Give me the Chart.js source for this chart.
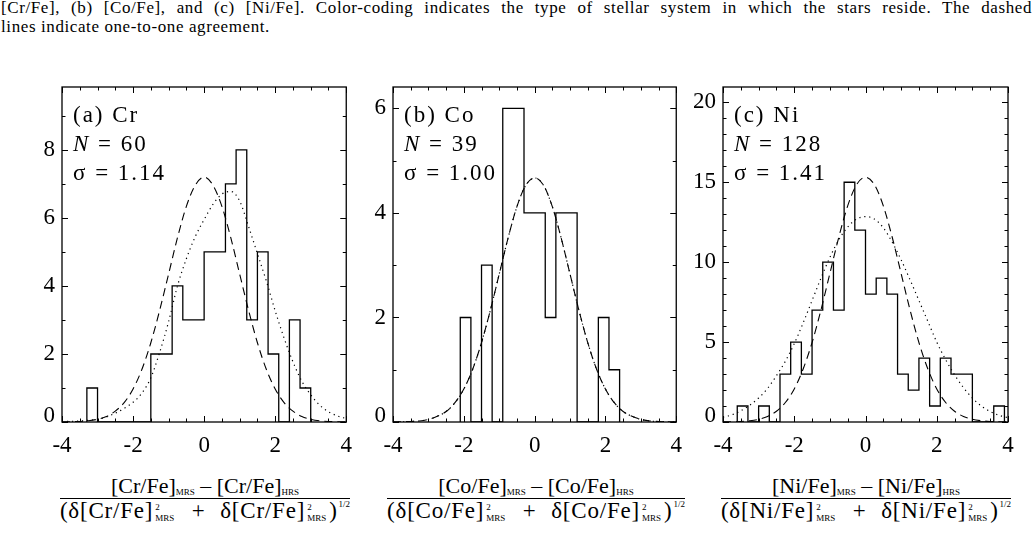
<!DOCTYPE html>
<html>
<head>
<meta charset="utf-8">
<script src="https://cdn.jsdelivr.net/npm/chart.js@4.4.0/dist/chart.umd.min.js"></script>
<style>
  html, body { margin: 0; padding: 0; background: #fff; }
  body { width: 1035px; height: 534px; position: relative; overflow: hidden; font-family: "Liberation Serif", serif; color: #000; }
  .cap { position: absolute; left: 1px; width: 1031px; font-size: 17px; line-height: 19px; letter-spacing: 0.6px; }
  #cap1 { top: -2px; text-align: justify; text-align-last: justify; }
  #cap2 { top: 17px; white-space: nowrap; }
  canvas { position: absolute; top: 60px; }
  .xt { position: absolute; top: 475px; width: 340px; text-align: center; font-size: 22px; line-height: 22px; }
  .num { white-space: nowrap; height: 23px; }
  .num sub { font-size: 9px; vertical-align: -2px; line-height: 0; }
  .den { display: inline-block; white-space: nowrap; border-top: 1.4px solid #000; padding-top: 1px; font-size: 23px; letter-spacing: 0.8px; word-spacing: 8px; }
  .ss { display: inline-flex; flex-direction: column; font-size: 9px; line-height: 11px; vertical-align: 8px; letter-spacing: 0; margin: 0 3px 0 2px; text-align: left; }
  .den sup { font-size: 9px; vertical-align: 11px; line-height: 0; letter-spacing: 0; margin-left: 1px; }
</style>
</head>
<body>
<div class="cap" id="cap1">[Cr/Fe], (b) [Co/Fe], and (c) [Ni/Fe]. Color-coding indicates the type of stellar system in which the stars reside. The dashed</div>
<div class="cap" id="cap2">lines indicate one-to-one agreement.</div>

<canvas id="crChart" width="362" height="410" style="left:0px"></canvas>
<canvas id="coChart" width="352" height="410" style="left:340px"></canvas>
<canvas id="niChart" width="355" height="410" style="left:680px"></canvas>

<div class="xt" style="left:35px">
  <div class="num">[Cr/Fe]<sub>MRS</sub> – [Cr/Fe]<sub>HRS</sub></div>
  <div class="den">(δ[Cr/Fe]<span class="ss"><span>2</span><span>MRS</span></span> + δ[Cr/Fe]<span class="ss"><span>2</span><span>MRS</span></span>)<sup>1/2</sup></div>
</div>
<div class="xt" style="left:366px">
  <div class="num">[Co/Fe]<sub>MRS</sub> – [Co/Fe]<sub>HRS</sub></div>
  <div class="den">(δ[Co/Fe]<span class="ss"><span>2</span><span>MRS</span></span> + δ[Co/Fe]<span class="ss"><span>2</span><span>MRS</span></span>)<sup>1/2</sup></div>
</div>
<div class="xt" style="left:696px">
  <div class="num">[Ni/Fe]<sub>MRS</sub> – [Ni/Fe]<sub>HRS</sub></div>
  <div class="den">(δ[Ni/Fe]<span class="ss"><span>2</span><span>MRS</span></span> + δ[Ni/Fe]<span class="ss"><span>2</span><span>MRS</span></span>)<sup>1/2</sup></div>
</div>

<script>
// tick labels
const xTickLabels = [-4, -2, 0, 2, 4];
const crYTicks = [0, 2, 4, 6, 8];
const coYTicks = [0, 2, 4, 6];
const niYTicks = [0, 5, 10, 15, 20];

// panel annotations
const panelNames = ['(a) Cr', '(b) Co', '(c) Ni'];
const panelN = ['60', '39', '128'];
const panelSigma = ['1.14', '1.00', '1.41'];

// histograms: bin edges and counts
const crEdges = [-3.3, -3.0, -2.7, -2.4, -2.1, -1.8, -1.5, -1.2, -0.9, -0.6, -0.3, 0, 0.3, 0.6, 0.9, 1.2, 1.5, 1.8, 2.1, 2.4, 2.7, 3.0];
const crCounts = [1, 0, 0, 0, 0, 0, 2, 2, 4, 3, 3, 5, 5, 7, 8, 3, 5, 2, 0, 3, 1];

const coEdges = [-2.1, -1.8, -1.5, -1.2, -0.9, -0.6, -0.3, 0, 0.3, 0.6, 0.9, 1.2, 1.5, 1.8, 2.1, 2.4];
const coCounts = [2, 0, 3, 0, 6, 6, 4, 4, 2, 4, 4, 0, 0, 2, 1];

const niEdges = [-3.6, -3.3, -3.0, -2.7, -2.4, -2.1, -1.8, -1.5, -1.2, -0.9, -0.6, -0.3, 0, 0.3, 0.6, 0.9, 1.2, 1.5, 1.8, 2.1, 2.4, 2.7, 3.0, 3.3, 3.6, 3.9];
const niCounts = [1, 0, 1, 0, 3, 5, 3, 7, 10, 7, 15, 12, 8, 9, 8, 3, 2, 4, 1, 4, 3, 3, 0, 0, 1];

// curves, read every 0.25 from -4 to 4
const curveX = [-4, -3.75, -3.5, -3.25, -3, -2.75, -2.5, -2.25, -2, -1.75, -1.5, -1.25, -1, -0.75, -0.5, -0.25, 0,
                0.25, 0.5, 0.75, 1, 1.25, 1.5, 1.75, 2, 2.25, 2.5, 2.75, 3, 3.25, 3.5, 3.75, 4];

const crDashed = [0.002, 0.006, 0.016, 0.037, 0.08, 0.16, 0.32, 0.57, 0.97, 1.55, 2.33, 3.29, 4.35, 5.42, 6.34, 6.96, 7.2,
                  6.96, 6.34, 5.42, 4.35, 3.29, 2.33, 1.55, 0.97, 0.57, 0.32, 0.16, 0.08, 0.037, 0.016, 0.006, 0.002];
const crDotted = [0.01, 0.02, 0.03, 0.05, 0.08, 0.15, 0.26, 0.4, 0.58, 0.85, 1.3, 2.05, 2.95, 4.0, 4.8, 5.45, 5.95,
                  6.4, 6.7, 6.78, 6.5, 5.75, 4.95, 4.15, 3.27, 2.47, 1.77, 1.2, 0.8, 0.5, 0.3, 0.18, 0.1];

const coDashed = [0.002, 0.004, 0.01, 0.02, 0.05, 0.11, 0.2, 0.37, 0.63, 1.01, 1.52, 2.14, 2.83, 3.52, 4.12, 4.53, 4.67,
                  4.53, 4.12, 3.52, 2.83, 2.14, 1.52, 1.01, 0.63, 0.37, 0.2, 0.11, 0.05, 0.02, 0.01, 0.004, 0.002];
const coDotted = [0.002, 0.004, 0.01, 0.02, 0.05, 0.11, 0.2, 0.37, 0.63, 1.01, 1.52, 2.14, 2.83, 3.52, 4.12, 4.53, 4.67,
                  4.53, 4.12, 3.52, 2.83, 2.14, 1.52, 1.01, 0.63, 0.37, 0.2, 0.11, 0.05, 0.02, 0.01, 0.004, 0.002];

const niDashed = [0.005, 0.013, 0.034, 0.08, 0.17, 0.35, 0.67, 1.22, 2.07, 3.32, 4.97, 7.01, 9.29, 11.56, 13.52, 14.85, 15.32,
                  14.85, 13.52, 11.56, 9.29, 7.01, 4.97, 3.32, 2.07, 1.22, 0.67, 0.35, 0.17, 0.08, 0.034, 0.013, 0.005];
const niDotted = [0.3, 0.45, 0.7, 1.05, 1.5, 2.1, 2.9, 3.8, 4.9, 6.2, 7.6, 9.0, 10.3, 11.4, 12.2, 12.7, 12.85,
                  12.7, 12.15, 11.25, 10.15, 8.9, 7.6, 6.3, 5.0, 3.9, 2.95, 2.15, 1.5, 1.0, 0.66, 0.42, 0.27];

const FONT = '"Liberation Serif", "Times New Roman", serif';
Chart.defaults.font.family = FONT;

function histPoints(edges, counts) {
    const pts = [{ x: edges[0], y: 0 }];
    counts.forEach((c, i) => {
        pts.push({ x: edges[i], y: c }, { x: edges[i + 1], y: c });
    });
    pts.push({ x: edges[edges.length - 1], y: 0 });
    return pts;
}

function curvePoints(vals) {
    return curveX.map((x, i) => ({ x: x, y: vals[i] }));
}

// text with a little extra room between glyphs, like the original plot
function spacedText(ctx, str, x, y, gap) {
    for (const ch of str) {
        ctx.fillText(ch, x, y);
        x += ctx.measureText(ch).width + gap;
    }
    return x;
}

// frame, inward ticks, shifted zero label and panel text
function makeFrame(idx) {
    return {
        id: 'frame' + idx,
        afterDraw(chart) {
            const ctx = chart.ctx;
            const a = chart.chartArea;
            const xs = chart.scales.x, ys = chart.scales.y;
            ctx.save();
            ctx.strokeStyle = '#000';
            ctx.lineWidth = 1.3;
            ctx.strokeRect(a.left, a.top, a.right - a.left, a.bottom - a.top);

            ctx.lineWidth = 1;
            ctx.beginPath();
            for (let v = -4; v <= 4; v += 0.5) {
                const px = Math.round(xs.getPixelForValue(v)) + 0.5;
                const len = xTickLabels.includes(v) ? 6 : 3.5;
                ctx.moveTo(px, a.bottom); ctx.lineTo(px, a.bottom - len);
                ctx.moveTo(px, a.top); ctx.lineTo(px, a.top + len);
            }
            const majors = ys.ticks.map(t => t.value);
            for (let v = 0; v <= ys.max; v += 1) {
                const py = Math.round(ys.getPixelForValue(v)) + 0.5;
                const len = majors.includes(v) ? 6 : 3.5;
                ctx.moveTo(a.left, py); ctx.lineTo(a.left + len, py);
                ctx.moveTo(a.right, py); ctx.lineTo(a.right - len, py);
            }
            ctx.stroke();

            ctx.fillStyle = '#000';
            ctx.font = '23px ' + FONT;
            ctx.textAlign = 'right';
            ctx.textBaseline = 'alphabetic';
            ctx.fillText('0', a.left - 7, a.bottom - 0.5);

            ctx.textAlign = 'left';
            const x0 = a.left + 11;
            spacedText(ctx, panelNames[idx], x0, a.top + 35, 2);
            ctx.font = 'italic 23px ' + FONT;
            let x1 = spacedText(ctx, 'N', x0, a.top + 64, 2);
            ctx.font = '23px ' + FONT;
            spacedText(ctx, ' = ' + panelN[idx], x1, a.top + 64, 2);
            spacedText(ctx, 'σ = ' + panelSigma[idx], x0, a.top + 93, 2);
            ctx.restore();
        }
    };
}

function drawPanel(canvasId, idx, p) {
    const ctx = document.getElementById(canvasId).getContext('2d');
    return new Chart(ctx, {
        type: 'line',
        data: {
            datasets: [{
                data: histPoints(p.edges, p.counts),
                borderColor: '#000',
                borderWidth: 1.3,
                pointRadius: 0,
                tension: 0
            }, {
                data: curvePoints(p.dashed),
                borderColor: '#000',
                borderWidth: 1.1,
                borderDash: [8, 5],
                pointRadius: 0,
                cubicInterpolationMode: 'monotone'
            }, {
                data: curvePoints(p.dotted),
                borderColor: '#000',
                borderWidth: 1.2,
                borderDash: [1.2, 3.8],
                pointRadius: 0,
                cubicInterpolationMode: 'monotone'
            }]
        },
        options: {
            responsive: false,
            animation: false,
            devicePixelRatio: 1,
            events: [],
            layout: { padding: { top: 27, right: p.padRight, left: 0, bottom: 0 } },
            plugins: { legend: { display: false }, tooltip: { enabled: false } },
            scales: {
                x: {
                    type: 'linear',
                    min: -4,
                    max: 4,
                    grid: { display: false, drawTicks: false },
                    border: { display: false },
                    afterBuildTicks: s => { s.ticks = xTickLabels.map(v => ({ value: v })); },
                    ticks: {
                        color: '#000',
                        font: { family: FONT, size: 23 },
                        padding: 10,
                        maxRotation: 0,
                        autoSkip: false,
                        callback: v => String(v)
                    },
                    afterFit: s => { s.height = 48; }
                },
                y: {
                    type: 'linear',
                    min: 0,
                    max: p.yMax,
                    grid: { display: false, drawTicks: false },
                    border: { display: false },
                    afterBuildTicks: s => { s.ticks = p.yTicks.map(v => ({ value: v })); },
                    ticks: {
                        color: '#000',
                        font: { family: FONT, size: 23 },
                        padding: 7,
                        autoSkip: false,
                        callback: v => (v === 0 ? '' : String(v))
                    },
                    afterFit: s => { s.width = p.yAxisW; }
                }
            }
        },
        plugins: [makeFrame(idx)]
    });
}

function drawAll() {
    drawPanel('crChart', 0, {
        edges: crEdges, counts: crCounts, dashed: crDashed, dotted: crDotted,
        yTicks: crYTicks, yMax: 9.85, yAxisW: 62, padRight: 15
    });
    drawPanel('coChart', 1, {
        edges: coEdges, counts: coCounts, dashed: coDashed, dotted: coDotted,
        yTicks: coYTicks, yMax: 6.41, yAxisW: 53, padRight: 14
    });
    drawPanel('niChart', 2, {
        edges: niEdges, counts: niCounts, dashed: niDashed, dotted: niDotted,
        yTicks: niYTicks, yMax: 20.96, yAxisW: 43, padRight: 27
    });
}

Promise.all([
    document.fonts.load('23px "Liberation Serif"'),
    document.fonts.load('italic 23px "Liberation Serif"')
]).then(drawAll, drawAll);
</script>
</body>
</html>
